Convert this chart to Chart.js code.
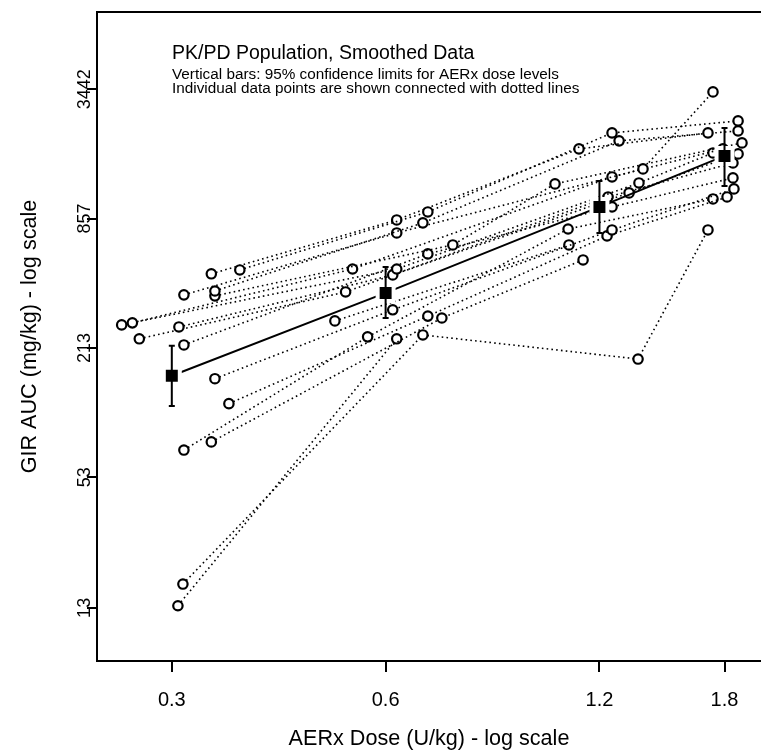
<!DOCTYPE html>
<html>
<head>
<meta charset="utf-8">
<script src="https://cdn.jsdelivr.net/npm/chart.js@4.4.1/dist/chart.umd.min.js"></script>
<style>
  html, body { margin: 0; padding: 0; background: #fff; overflow: hidden; }
</style>
</head>
<body>
<canvas id="gir" width="761" height="754"></canvas>
<script>
// tick positions on both log axes
const xTicks = [0.3, 0.6, 1.2, 1.8];
const yTicks = [13, 53, 213, 857, 3442];

// population means + 95% limits per dose level
const meanDose = [0.3, 0.6, 1.2, 1.8];
const meanAuc = [158, 385, 971, 1681];
const ciLow = [114, 294, 734, 1217];
const ciHigh = [218, 509, 1284, 2272];

// individual subjects, doses in U/kg and GIR AUC in mg/kg
const subjectDose = [
  [0.374, 0.688, 1.25, 1.881],
  [0.341, 0.622, 1.123, 1.706],
  [0.345, 0.677, 1.279, 1.881],
  [0.312, 0.622, 1.382, 1.734],
  [0.345, 0.746, 1.039, 1.905],
  [0.264, 0.539, 1.25, 1.791],
  [0.255, 0.622, 1.364, 1.734],
  [0.307, 0.614, 1.321, 1.881],
  [0.27, 0.527, 1.234, 1.85],
  [0.312, 0.688, 1.25, 1.85],
  [0.345, 0.614, 1.25, 1.856],
  [0.361, 0.688, 1.23, 1.815],
  [0.312, 0.566, 1.084, 1.734],
  [0.341, 0.72, 1.138],
  [0.311, 0.677, 1.36, 1.706],
  [0.306, 0.622],
  [0.509, 1.087],
];
const subjectAuc = [
  [493, 920, 2153, 2450],
  [473, 844, 1813, 2153],
  [393, 818, 1977, 2200],
  [377, 734, 1462, 3347],
  [373, 645, 1244, 1934],
  [279, 498, 1341, 1813],
  [273, 498, 1257, 1736],
  [267, 467, 1129, 1718],
  [235, 389, 1081, 1559],
  [220, 586, 971, 1327],
  [153, 321, 758, 1179],
  [117, 300, 711, 1081],
  [71, 240, 766, 1058],
  [77.5, 294, 549],
  [16.8, 245, 189, 758],
  [13.3, 235],
  [285, 645],
];

const titleLines = [
  'PK/PD Population, Smoothed Data',
  'Vertical bars: 95% confidence limits for AERx dose levels',
  'Individual data points are shown connected with dotted lines',
];

const FONT = "'Liberation Sans', Arial, Helvetica, sans-serif";

const datasets = [{
  data: meanDose.map((d, i) => ({ x: d, y: meanAuc[i] })),
  borderColor: '#000',
  borderWidth: 2,
  pointStyle: 'rect',
  pointRadius: 11.3,
  pointBackgroundColor: '#000',
  pointBorderColor: '#fff',
  pointBorderWidth: 4,
  order: 0,
}];

subjectDose.forEach((doses, i) => {
  datasets.push({
    data: doses.map((d, j) => ({ x: d, y: subjectAuc[i][j] })),
    borderColor: '#000',
    borderWidth: 1.6,
    borderDash: [1.6, 3.2],
    pointRadius: 4.7,
    pointBorderWidth: 2.2,
    pointBorderColor: '#000',
    pointBackgroundColor: '#fff',
    order: 1,
  });
});

// error bars, frame top, rotated y labels, annotation text
const decor = {
  id: 'decor',
  afterDatasetsDraw(chart) {
    const { ctx, scales: { x, y } } = chart;
    ctx.save();
    ctx.strokeStyle = '#000';
    ctx.lineWidth = 2;
    meanDose.forEach((d, i) => {
      const px = x.getPixelForValue(d);
      const top = y.getPixelForValue(ciHigh[i]);
      const bot = y.getPixelForValue(ciLow[i]);
      ctx.beginPath();
      ctx.moveTo(px, top); ctx.lineTo(px, bot);
      ctx.moveTo(px - 3, top); ctx.lineTo(px + 3, top);
      ctx.moveTo(px - 3, bot); ctx.lineTo(px + 3, bot);
      ctx.stroke();
    });
    ctx.restore();
  },
  afterDraw(chart) {
    const { ctx, chartArea: a, scales: { y } } = chart;
    ctx.save();
    ctx.strokeStyle = '#000';
    ctx.lineWidth = 2;
    ctx.beginPath();
    ctx.moveTo(a.left, a.top);
    ctx.lineTo(a.right, a.top);
    ctx.stroke();

    ctx.fillStyle = '#000';
    ctx.font = '18px ' + FONT;
    ctx.textAlign = 'center';
    ctx.textBaseline = 'middle';
    yTicks.forEach(v => {
      ctx.save();
      ctx.translate(a.left - 12, y.getPixelForValue(v));
      ctx.rotate(-Math.PI / 2);
      ctx.fillText(String(v), 0, 0);
      ctx.restore();
    });

    ctx.textAlign = 'left';
    ctx.textBaseline = 'alphabetic';
    ctx.font = '19.5px ' + FONT;
    ctx.fillText(titleLines[0], 172, 59);
    ctx.font = '15.3px ' + FONT;
    ctx.fillText(titleLines[1], 172, 79);
    ctx.fillText(titleLines[2], 172, 93);
    ctx.restore();
  }
};

new Chart(document.getElementById('gir'), {
  type: 'line',
  data: { datasets },
  options: {
    responsive: false,
    animation: false,
    events: [],
    layout: { autoPadding: false, padding: { top: 12, left: 0, right: 0, bottom: 0 } },
    plugins: { legend: { display: false }, tooltip: { enabled: false } },
    scales: {
      x: {
        type: 'logarithmic',
        min: 0.2354,
        max: 2.026,
        afterBuildTicks: (s) => { s.ticks = xTicks.map(v => ({ value: v })); },
        afterFit: (s) => { s.height = 93; s.paddingLeft = 0; s.paddingRight = 0; },
        ticks: {
          autoSkip: false,
          maxRotation: 0,
          color: '#000',
          padding: 16,
          font: { family: FONT, size: 20 },
          callback: (v) => String(v),
        },
        grid: { drawOnChartArea: false, tickLength: 11, color: '#000', lineWidth: 2 },
        border: { color: '#000', width: 2 },
        title: {
          display: true,
          text: 'AERx Dose (U/kg) - log scale',
          color: '#000',
          font: { family: FONT, size: 21.6 },
          padding: { top: 0, bottom: 2 },
        },
      },
      y: {
        type: 'logarithmic',
        min: 7.34,
        max: 7907,
        afterBuildTicks: (s) => { s.ticks = yTicks.map(v => ({ value: v })); },
        afterFit: (s) => { s.width = 97; s.paddingTop = 0; s.paddingBottom = 0; },
        ticks: { display: false },
        grid: { drawOnChartArea: false, tickLength: 10, color: '#000', lineWidth: 2 },
        border: { color: '#000', width: 2 },
        title: {
          display: true,
          text: 'GIR AUC (mg/kg) - log scale',
          color: '#000',
          font: { family: FONT, size: 21.6 },
          padding: { top: 17, bottom: 0 },
        },
      },
    },
  },
  plugins: [decor],
});
</script>
</body>
</html>
